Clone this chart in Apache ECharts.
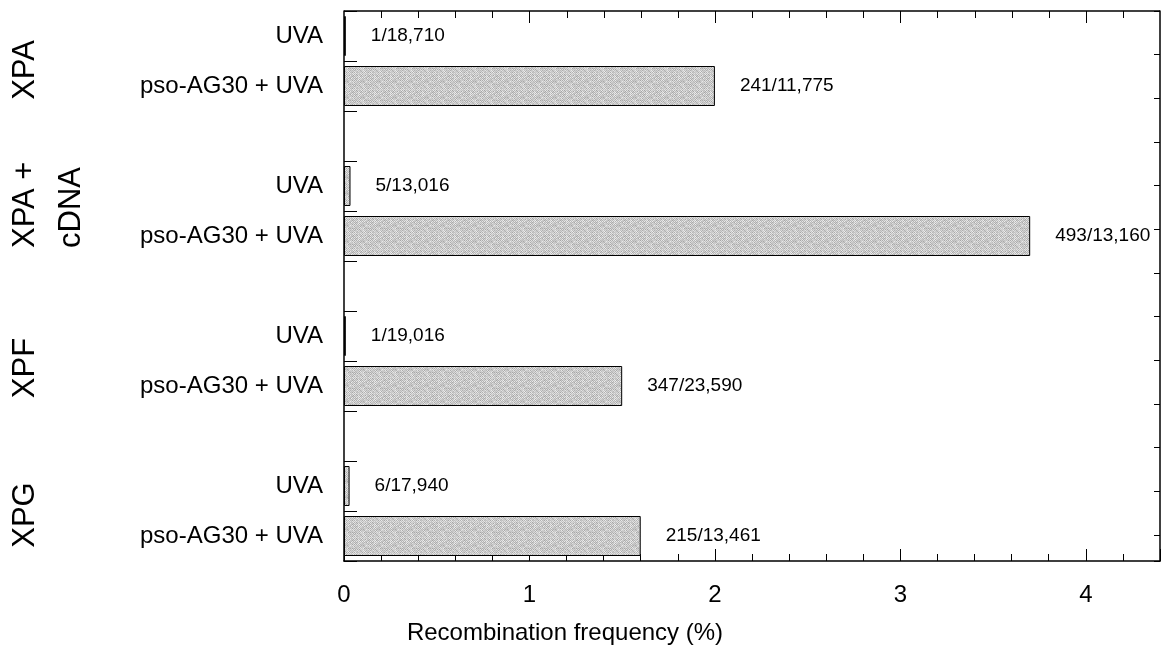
<!DOCTYPE html>
<html>
<head>
<meta charset="utf-8">
<script src="https://cdn.jsdelivr.net/npm/echarts@6/dist/echarts.min.js"></script>
<style>
html,body{margin:0;padding:0;background:#fff;}
#chart{width:1169px;height:653px;}
</style>
</head>
<body>
<div id="chart"></div>
<script>
// ---- data ----
const groups = ['XPA', 'XPA +\ncDNA', 'XPF', 'XPG'];
const treatments = ['UVA', 'pso-AG30 + UVA'];
const uvaFreq = [0.01, 0.035, 0.01, 0.03];
const psoFreq = [2.0, 3.7, 1.5, 1.6];
const uvaCounts = ['1/18,710', '5/13,016', '1/19,016', '6/17,940'];
const psoCounts = ['241/11,775', '493/13,160', '347/23,590', '215/13,461'];
const xTickLabels = ['0', '1', '2', '3', '4'];
const xTitle = 'Recombination frequency (%)';

// ---- layout (slots on the category axis) ----
const nSlots = 23;
const groupStart = [1, 7, 13, 19];
const categories = new Array(nSlots).fill('');
const barData = new Array(nSlots).fill('-');
const labelText = new Array(nSlots).fill('');
groups.forEach((g, i) => {
  const s = groupStart[i];
  categories[s] = treatments[0];
  categories[s + 2] = treatments[1];
  barData[s] = uvaFreq[i];
  barData[s + 2] = psoFreq[i];
  labelText[s] = uvaCounts[i];
  labelText[s + 2] = psoCounts[i];
});

// stipple texture (deterministic hash, purely decorative)
const P = 16;
const pc = document.createElement('canvas');
pc.width = P; pc.height = P;
const pctx = pc.getContext('2d');
for (let r = 0; r < P; r++) for (let c = 0; c < P; c++) {
  const h = ((r * 73 + c * 151 + r * c * 37) % 97) / 97;
  const checker = (r + c) % 2 === 0;
  const v = checker ? 165 + Math.round(h * 40) : 198 + Math.round(h * 40);
  pctx.fillStyle = 'rgb(' + v + ',' + v + ',' + v + ')';
  pctx.fillRect(c, r, 1, 1);
}

const FONT = 'Liberation Sans, Arial, Helvetica, sans-serif';
const X_MIN = 0, X_MAX = 4.4, MINOR_STEP = 0.2;
const chart = echarts.init(document.getElementById('chart'), null, {renderer: 'canvas'});

const groupLabelGraphics = [
  {type: 'text', x: 25, y: 70, rotation: Math.PI / 2,
   style: {text: groups[0], font: '31px ' + FONT, fill: '#000', align: 'center', verticalAlign: 'middle'}},
  {type: 'text', x: 48, y: 248, rotation: Math.PI / 2,
   style: {text: groups[1], font: '31px ' + FONT, fill: '#000', align: 'left', verticalAlign: 'middle', lineHeight: 46}},
  {type: 'text', x: 25, y: 368, rotation: Math.PI / 2,
   style: {text: groups[2], font: '31px ' + FONT, fill: '#000', align: 'center', verticalAlign: 'middle'}},
  {type: 'text', x: 25, y: 515, rotation: Math.PI / 2,
   style: {text: groups[3], font: '31px ' + FONT, fill: '#000', align: 'center', verticalAlign: 'middle'}}
];

chart.setOption({
  animation: false,
  backgroundColor: '#fff',
  grid: {left: 344, right: 9, top: 11, bottom: 92, containLabel: false},
  xAxis: [
    {
      type: 'value', min: X_MIN, max: X_MAX, interval: 1, position: 'bottom',
      splitLine: {show: false},
      axisLine: {show: true, onZero: false, lineStyle: {color: '#000', width: 1.5}},
      axisTick: {show: true, inside: true, length: 12, lineStyle: {color: '#000', width: 1}},
      minorTick: {show: true, splitNumber: 5, length: 7, lineStyle: {color: '#000', width: 1}},
      axisLabel: {show: true, color: '#000', fontSize: 24, fontFamily: FONT, margin: 22,
        formatter: (v) => Math.abs(v - Math.round(v)) < 1e-6 && xTickLabels[Math.round(v)] !== undefined ? xTickLabels[Math.round(v)] : ''},
      name: xTitle,
      nameLocation: 'middle', nameGap: 60,
      nameTextStyle: {color: '#000', fontSize: 24, fontFamily: FONT, padding: [0, 374, 0, 0]}
    }
  ],
  yAxis: [
    {
      type: 'category', data: categories, inverse: true, boundaryGap: false,
      position: 'left',
      axisLine: {show: true, onZero: false, lineStyle: {color: '#000', width: 1.5}},
      axisTick: {show: true, inside: true, length: 13, interval: 1, lineStyle: {color: '#000', width: 1}},
      axisLabel: {show: true, interval: 0, color: '#000', fontSize: 24, fontFamily: FONT, margin: 21},
      splitLine: {show: false}
    },
    {
      type: 'value', min: 0, max: 12.6, interval: 1, inverse: true,
      position: 'right',
      axisLine: {show: true, onZero: false, lineStyle: {color: '#000', width: 1.5}},
      axisTick: {show: true, inside: true, length: 6, lineStyle: {color: '#000', width: 1}},
      axisLabel: {show: false},
      splitLine: {show: false}
    }
  ],
  series: [
    {
      type: 'bar',
      xAxisIndex: 0, yAxisIndex: 0,
      data: barData,
      barWidth: 40,
      itemStyle: {
        color: {image: pc, repeat: 'repeat'},
        borderColor: '#000', borderWidth: 1
      },
      label: {
        show: true, position: 'right', distance: 25,
        color: '#000', fontSize: 19, fontFamily: FONT,
        formatter: (p) => labelText[p.dataIndex]
      }
    }
  ],
  graphic: groupLabelGraphics
});

// top frame with ticks, placed through the x axis scale
const topY = chart.convertToPixel({yAxisIndex: 0}, 0);
const xLeft = chart.convertToPixel({xAxisIndex: 0}, X_MIN);
const xRight = chart.convertToPixel({xAxisIndex: 0}, X_MAX);
const topGraphics = [{
  type: 'line', silent: true,
  shape: {x1: xLeft, y1: topY, x2: xRight, y2: topY},
  style: {stroke: '#000', lineWidth: 1.5}
}];
const nMinor = Math.round((X_MAX - X_MIN) / MINOR_STEP);
for (let k = 1; k < nMinor; k++) {
  const v = X_MIN + k * MINOR_STEP;
  const px = Math.round(chart.convertToPixel({xAxisIndex: 0}, v)) + 0.5;
  const major = k % 5 === 0;
  topGraphics.push({
    type: 'line', silent: true,
    shape: {x1: px, y1: topY, x2: px, y2: topY + (major ? 12 : 7)},
    style: {stroke: '#000', lineWidth: 1}
  });
}
chart.setOption({graphic: groupLabelGraphics.concat(topGraphics)});
</script>
</body>
</html>
